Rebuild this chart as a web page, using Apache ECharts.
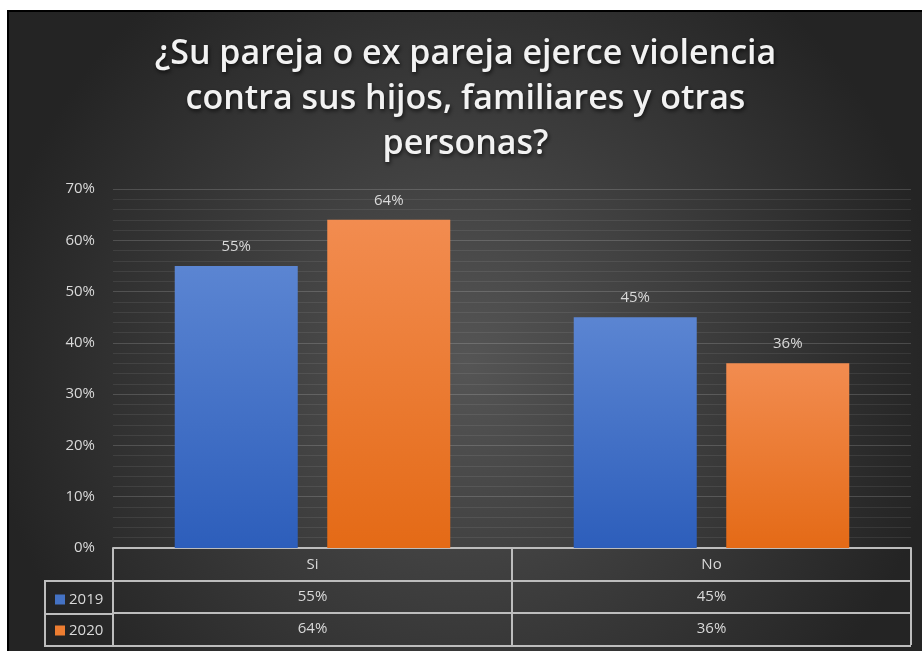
<!DOCTYPE html>
<html>
<head>
<meta charset="utf-8">
<title>Violencia contra hijos, familiares y otras personas</title>
<script src="https://cdn.jsdelivr.net/npm/echarts@6/dist/echarts.min.js"></script>
<style>
  html, body { margin: 0; padding: 0; background: #fff; }
  #main {
    position: absolute;
    left: 7px;
    top: 10px;
    width: 915px;
    height: 641px;
    border-top: 2px solid #000;
    border-left: 2px solid #000;
    box-sizing: border-box;
  }
</style>
</head>
<body>
<div id="main"></div>
<script>
// data
const categories = ['Si', 'No'];
const years = ['2019', '2020'];
const values2019 = [55, 45];
const values2020 = [64, 36];
const yTicks = [0, 10, 20, 30, 40, 50, 60, 70];

const FONT = 'Open Sans';
const TXT = '#d9d9d9';
const LINE = '#bdbdbd';

let chart = echarts.init(document.getElementById('main'));

const pct = v => v + '%';

// one extra x axis per table row, same grid
function tableAxis(offset, values) {
  return {
    type: 'category',
    data: categories,
    position: 'bottom',
    offset: offset,
    axisLine: {show: true, lineStyle: {color: LINE, width: 2}},
    axisTick: {show: true, alignWithLabel: false, interval: 0, length: 32, lineStyle: {color: LINE, width: 2}},
    axisLabel: {
      show: true,
      interval: 0,
      margin: 8,
      color: TXT,
      fontFamily: FONT,
      fontSize: 15,
      formatter: (v, i) => pct(values[i])
    },
    splitLine: {show: false}
  };
}

chart.setOption({
  backgroundColor: new echarts.graphic.RadialGradient(0.5, 0.55, 0.75, [
    {offset: 0, color: '#555555'},
    {offset: 1, color: '#242424'}
  ]),
  title: {
    text: '¿Su pareja o ex pareja ejerce violencia\ncontra sus hijos, familiares y otras\npersonas?',
    left: 'center',
    top: 15,
    textStyle: {
      color: '#f2f2f2',
      fontFamily: FONT,
      fontWeight: 600,
      fontSize: 34,
      lineHeight: 45,
      textShadowColor: 'rgba(0,0,0,0.7)',
      textShadowBlur: 4,
      textShadowOffsetX: 1,
      textShadowOffsetY: 2
    }
  },
  legend: {
    orient: 'vertical',
    left: 41,
    top: 575,
    itemWidth: 10,
    itemHeight: 10,
    itemGap: 16,
    textStyle: {color: TXT, fontFamily: FONT, fontSize: 15, padding: [0, 0, 0, -1]},
    data: [
      {name: years[0], icon: 'rect', itemStyle: {color: '#4472c4'}},
      {name: years[1], icon: 'rect', itemStyle: {color: '#ed7d31'}}
    ]
  },
  grid: {left: 104, right: 11, top: 177, bottom: 103},
  xAxis: [
    {
      type: 'category',
      data: categories,
      position: 'bottom',
      axisLine: {show: true, lineStyle: {color: LINE, width: 2}},
      axisTick: {show: true, alignWithLabel: false, interval: 0, length: 33, lineStyle: {color: LINE, width: 2}},
      axisLabel: {interval: 0, margin: 9, color: TXT, fontFamily: FONT, fontSize: 15}
    },
    tableAxis(33, values2019),
    tableAxis(65, values2020)
  ],
  yAxis: {
    type: 'value',
    min: 0,
    max: yTicks[yTicks.length - 1],
    interval: 10,
    axisLine: {show: false},
    axisTick: {show: false},
    axisLabel: {color: TXT, fontFamily: FONT, fontSize: 15, margin: 18, formatter: '{value}%'},
    splitLine: {show: true, lineStyle: {color: 'rgba(255,255,255,0.16)', width: 1}},
    minorTick: {show: false, splitNumber: 5},
    minorSplitLine: {show: true, lineStyle: {color: 'rgba(255,255,255,0.08)', width: 1}}
  },
  series: [
    {
      name: years[0],
      type: 'bar',
      xAxisIndex: 0,
      barWidth: 123,
      barGap: '24%',
      data: values2019,
      itemStyle: {
        color: new echarts.graphic.LinearGradient(0, 0, 0, 1, [
          {offset: 0, color: '#5b85d2'},
          {offset: 1, color: '#2d5ebb'}
        ])
      },
      label: {show: true, position: 'top', distance: 12, color: TXT, fontFamily: FONT, fontSize: 15, formatter: p => pct(p.value)}
    },
    {
      name: years[1],
      type: 'bar',
      xAxisIndex: 0,
      barWidth: 123,
      data: values2020,
      itemStyle: {
        color: new echarts.graphic.LinearGradient(0, 0, 0, 1, [
          {offset: 0, color: '#f28c50'},
          {offset: 1, color: '#e46a16'}
        ])
      },
      label: {show: true, position: 'top', distance: 12, color: TXT, fontFamily: FONT, fontSize: 15, formatter: p => pct(p.value)}
    }
  ],
  // legend column and bottom edge of the data table
  graphic: [
    {type: 'polyline', shape: {points: [[104, 569], [36, 569], [36, 634], [902, 634]]}, style: {stroke: LINE, lineWidth: 2, fill: null}},
    {type: 'line', shape: {x1: 36, y1: 602, x2: 104, y2: 602}, style: {stroke: LINE, lineWidth: 2}}
  ]
});
</script>
</body>
</html>
